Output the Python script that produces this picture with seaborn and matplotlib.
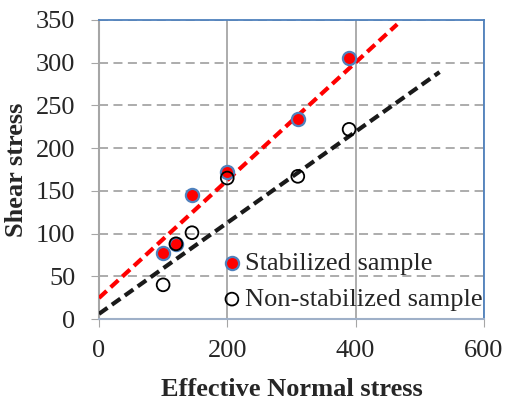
import numpy as np
import pandas as pd
import matplotlib
matplotlib.use('Agg')
import matplotlib.pyplot as plt
import seaborn as sns

# --- Data ---
normal_stress = [100, 120, 145, 200, 310, 390]
shear_stabilized = [77, 88, 145, 172, 234, 306]
shear_non_stabilized = [40, 88, 101, 165, 167, 222]

# trendlines (slope, intercept, x end) as drawn in the original
stab_trend = (0.689, 24.6, 465)
non_stab_trend = (0.533, 6.0, 531)

x_ticks = [0, 200, 400, 600]
y_ticks = [0, 50, 100, 150, 200, 250, 300, 350]

GRID = '#a6a6a6'
BLUE = '#4f81bd'

sns.set_style('white')
plt.rcParams['font.family'] = ['Liberation Serif', 'DejaVu Serif']

fig = plt.figure(figsize=(5.05, 4.0), dpi=100)
ax = fig.add_axes([0.196, 0.2025, 0.762, 0.7475])

df_stab = pd.DataFrame({'x': normal_stress, 'y': shear_stabilized})
df_non = pd.DataFrame({'x': normal_stress, 'y': shear_non_stabilized})

# trendlines
for (slope, icpt, xend), col in [(stab_trend, 'red'), (non_stab_trend, '#1a1a1a')]:
    xs = np.array([0, xend])
    sns.lineplot(x=xs, y=icpt + slope * xs, ax=ax, color=col, lw=3,
                 linestyle=(0, (2.5, 1.3)), zorder=3)

sns.scatterplot(data=df_stab, x='x', y='y', ax=ax, color='red', edgecolor=BLUE,
                linewidth=1.6, s=90, zorder=4, label='Stabilized sample')
sns.scatterplot(data=df_non, x='x', y='y', ax=ax, facecolor='none', edgecolor='black',
                linewidth=1.3, s=85, zorder=5, label='Non-stabilized sample')

ax.set_xlim(0, 600)
ax.set_ylim(0, 350)
ax.set_xticks(x_ticks)
ax.set_yticks(y_ticks)
ax.tick_params(labelsize=19, length=6, color=GRID, direction='out',
               bottom=True, left=True)
ax.tick_params(axis='x', pad=9)
ax.tick_params(axis='y', pad=11)

ax.xaxis.grid(True, color=GRID, lw=1.3)
ax.yaxis.grid(True, color=GRID, lw=1.3, linestyle=(0, (5, 3)))
ax.set_axisbelow(True)

ax.spines['left'].set_color(GRID)
ax.spines['left'].set_linewidth(1.5)
ax.spines['bottom'].set_color('#9fb0c8')
ax.spines['bottom'].set_linewidth(1.5)
for side in ['top', 'right']:
    ax.spines[side].set_color(BLUE)
    ax.spines[side].set_linewidth(1.3)

ax.set_xlabel('Effective Normal stress', fontsize=19, fontweight='bold', labelpad=12)
ax.set_ylabel('Shear stress', fontsize=19, fontweight='bold', labelpad=6)

leg = ax.legend(loc='lower right', bbox_to_anchor=(1.011, 0.009), frameon=False,
                fontsize=19, handlelength=0.6, handletextpad=0.2,
                labelspacing=0.47, borderpad=0.2, borderaxespad=0)

fig.savefig('out.png', dpi=100)
